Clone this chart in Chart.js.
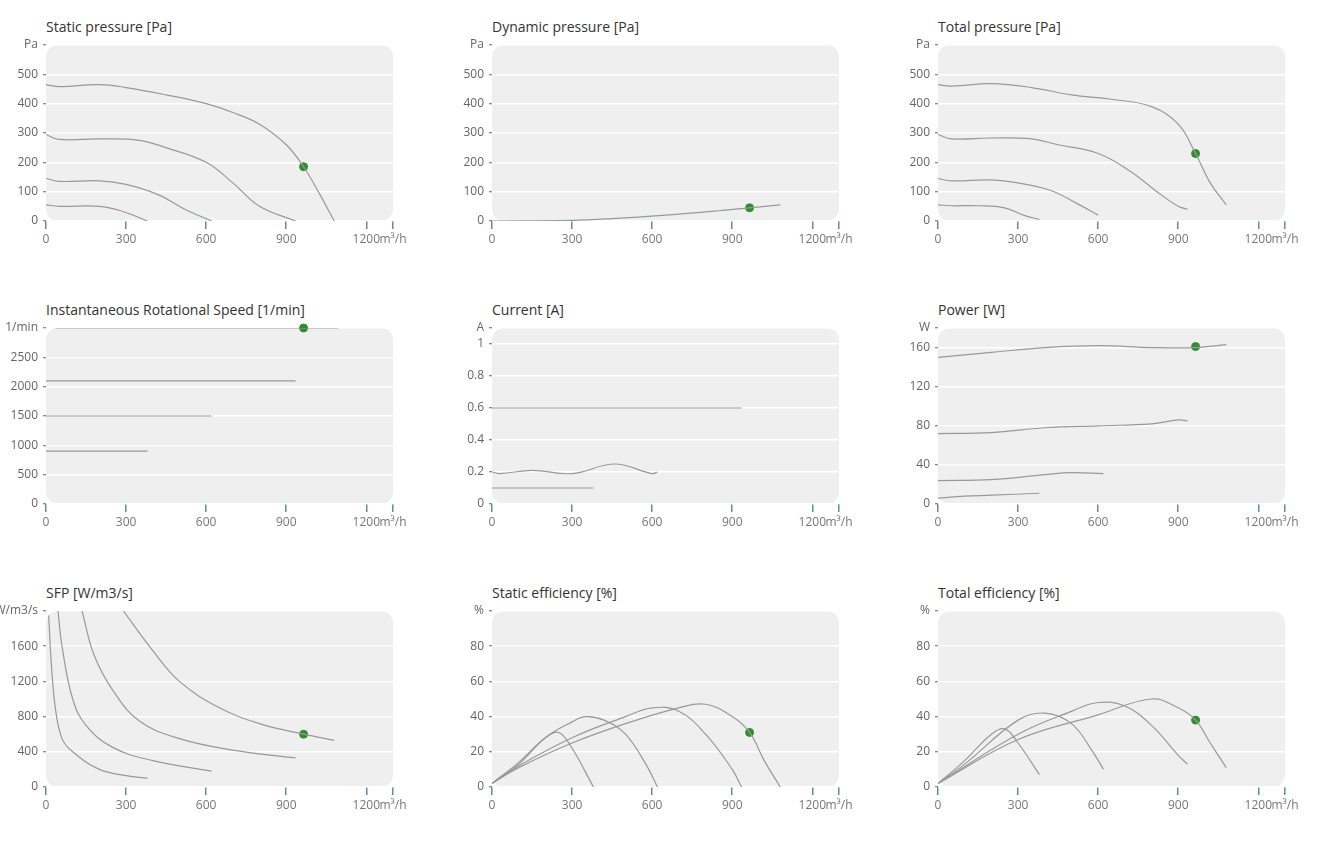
<!DOCTYPE html>
<html><head><meta charset="utf-8">
<script src="https://cdn.jsdelivr.net/npm/chart.js@4.4.0/dist/chart.umd.min.js"></script>
<style>
body{margin:0;background:#fff;font-family:"Open Sans",sans-serif;width:1327px;height:846px;position:relative;overflow:hidden}
.t{position:absolute;font-size:14px;color:#333}
.c{position:absolute;width:412px;height:222px}
</style></head><body>
<script>
const xTicks=[0,300,600,900,1200,1300];
const xUnit="m³/h";
const titles=["Static pressure [Pa]","Dynamic pressure [Pa]","Total pressure [Pa]","Instantaneous Rotational Speed [1/min]","Current [A]","Power [W]","SFP [W/m3/s]","Static efficiency [%]","Total efficiency [%]"];
const yUnits=["Pa","Pa","Pa","1/min","A","W","W/m3/s","%","%"];
const yMax=[600,600,600,3000,1.1,180,2000,100,100];
const yStep=[100,100,100,500,0.2,40,400,20,20];
const staticP=[
[[0,465],[50,458],[200,465],[300,455],[450,430],[600,400],[700,370],[800,330],[900,260],[965,185],[1020,100],[1080,0]],
[[0,295],[50,278],[200,280],[350,275],[450,250],[600,200],[700,130],[800,50],[935,0]],
[[0,145],[50,135],[200,137],[300,125],[420,90],[520,40],[620,0]],
[[0,55],[50,50],[200,50],[280,35],[380,0]]];
const dynamicP=[[[0,0],[300,2],[450,8],[650,20],[850,35],[965,45],[1080,55]]];
const totalP=[
[[0,465],[50,460],[200,468],[350,455],[500,430],[650,415],[800,390],[900,330],[965,230],[1020,130],[1080,55]],
[[0,295],[50,280],[200,283],[350,280],[450,260],[600,230],[720,170],[820,100],[900,50],[935,40]],
[[0,145],[50,137],[200,140],[300,130],[420,105],[520,60],[600,20]],
[[0,55],[50,52],[150,52],[250,45],[320,20],[380,5]]];
const speed=[[[35,3000],[1095,3000]],[[0,2100],[935,2100]],[[0,1500],[620,1500]],[[0,900],[380,900]]];
const current=[[[0,0.6],[935,0.6]],[[0,0.2],[30,0.19],[150,0.21],[300,0.19],[460,0.25],[600,0.19],[620,0.2]],[[0,0.1],[380,0.1]]];
const power=[
[[0,150],[200,155],[400,160],[600,162],[800,160],[965,160],[1080,163]],
[[0,72],[200,73],[400,78],[600,80],[800,82],[900,86],[935,85]],
[[0,24],[200,25],[400,30],[500,32],[620,31]],
[[0,6],[100,8],[200,9],[380,11]]];
const sfp=[
[[290,2000],[400,1550],[500,1200],[650,900],[800,720],[965,600],[1080,530]],
[[135,2000],[180,1500],[250,1100],[350,750],[500,550],[700,420],[935,330]],
[[45,2000],[60,1600],[100,1000],[150,700],[250,450],[400,300],[620,180]],
[[10,1950],[20,1400],[35,900],[60,550],[100,400],[200,200],[300,130],[380,100]]];
const staticEff=[
[[0,2],[100,11],[300,25],[500,36],[700,45],[800,47],[900,40],[965,31],[1020,15],[1080,0]],
[[0,2],[100,12],[300,28],[500,40],[600,45],[700,43],[800,30],[900,10],[935,0]],
[[0,2],[100,13],[200,28],[300,37],[350,40],[420,38],[500,30],[580,12],[620,0]],
[[0,2],[100,14],[200,28],[250,31],[300,22],[380,0]]];
const totalEff=[
[[0,2],[300,27],[600,41],[800,50],[900,45],[965,38],[1020,25],[1080,11]],
[[0,2],[300,30],[500,43],[600,48],[700,46],[800,35],[900,18],[935,13]],
[[0,2],[100,13],[300,38],[400,42],[500,36],[580,20],[620,10]],
[[0,2],[100,15],[200,30],[250,33],[300,25],[380,7]]];
const curves=[staticP,dynamicP,totalP,speed,current,power,sfp,staticEff,totalEff];
const opPoints=[[965,185],[965,45],[965,230],[965,3000],[965,1.3],[965,161],[965,600],[965,31],[965,38]];

const bgPlugin={id:'bg',beforeDraw(ch){const a=ch.chartArea,c=ch.ctx;c.save();c.fillStyle='#efefef';c.beginPath();c.roundRect(a.left,a.top,a.right-a.left,a.bottom-a.top,12);c.fill();c.restore();}};

curves.forEach((cv,i)=>{
  const col=i%3,row=Math.floor(i/3);
  const ox=col*446,oy=[0,283,566][row];
  const t=document.createElement('div');t.className='t';t.textContent=titles[i];
  t.style.left=(ox+46)+'px';t.style.top=(oy+17)+'px';document.body.appendChild(t);
  const d=document.createElement('div');d.className='c';d.style.left=ox+'px';d.style.top=(oy+30)+'px';
  const cn=document.createElement('canvas');d.appendChild(cn);document.body.appendChild(d);
  const ds=cv.map(c=>({type:'line',data:c.map(p=>({x:p[0],y:p[1]})),borderColor:'#999',borderWidth:1.2,pointRadius:0,tension:0.4,fill:false}));
  ds.push({type:'scatter',data:[{x:opPoints[i][0],y:opPoints[i][1]}],backgroundColor:'#2f8f2f',borderColor:'#2f8f2f',pointRadius:4,clip:false});
  new Chart(cn,{data:{datasets:ds},plugins:[bgPlugin],options:{responsive:true,maintainAspectRatio:false,animation:false,
    layout:{padding:{top:15,right:19,left:0,bottom:0}},
    plugins:{legend:{display:false},tooltip:{enabled:false}},
    scales:{
      x:{type:'linear',min:0,max:1300,afterBuildTicks(s){s.ticks=xTicks.map(v=>({value:v}));},
        afterFit(s){s.height=31;},
        border:{display:false},
        grid:{drawOnChartArea:false,drawTicks:true,tickLength:8,color:'#5b8fa8',lineWidth:1.5},
        ticks:{autoSkip:false,maxRotation:0,padding:3,color:'#777',font:{family:'Open Sans',size:12},callback:v=>v===1300?xUnit:String(v)}},
      y:{type:'linear',min:0,max:yMax[i],afterBuildTicks(s){const a=[];for(let v=0;v<=yMax[i]-yStep[i]/2+1e-9;v+=yStep[i])a.push({value:+v.toFixed(3)});a.push({value:yMax[i]});s.ticks=a;},
        afterFit(s){s.width=46;},
        border:{display:false},
        grid:{color:'#fff',lineWidth:1.5,tickColor:'#666',tickLength:3,tickWidth:1},
        ticks:{autoSkip:false,padding:5,color:'#666',font:{family:'Open Sans',size:12},callback:v=>v===yMax[i]?yUnits[i]:String(v)}}
    }}});
});
</script>
</body></html>
